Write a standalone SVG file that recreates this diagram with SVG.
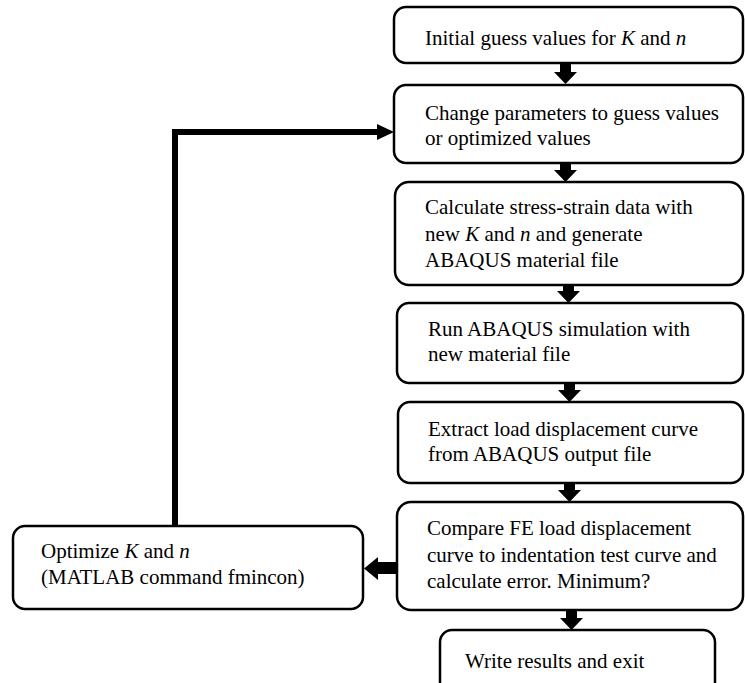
<svg xmlns="http://www.w3.org/2000/svg" width="745" height="683" viewBox="0 0 745 683">
<style>
.box{fill:#fff;stroke:#000;stroke-width:2.5}
.t{font-family:"Liberation Serif","Times New Roman",serif;font-size:21px;fill:#000}
.i{font-style:italic}
.conn{fill:#000;stroke:none}
</style>
<rect width="745" height="683" fill="#fff"/>
<g id="connectors">
  <path class="conn" d="M560,63 h11 v9 h6 l-11.5,12 l-11.5,-12 h6 z"/>
  <path class="conn" d="M560,163 h11 v7 h6 l-11.5,12 l-11.5,-12 h6 z"/>
  <path class="conn" d="M563,285 h11 v6 h6 l-11.5,12 l-11.5,-12 h6 z"/>
  <path class="conn" d="M564,383 h11 v7 h6 l-11.5,12 l-11.5,-12 h6 z"/>
  <path class="conn" d="M564,483 h11 v7 h6 l-11.5,12 l-11.5,-12 h6 z"/>
  <path class="conn" d="M566,610 h11 v8 h6 l-11.5,12 l-11.5,-12 h6 z"/>
  <path class="conn" d="M408,562 v12 h-30 v6 l-14,-11.5 l14,-11.5 v5 z"/>
  <polyline points="175,526 175,132 380,132" fill="none" stroke="#000" stroke-width="6"/>
  <path class="conn" d="M377,124 l17,8 l-17,8 z"/>
</g>
<g id="n1">
  <rect class="box" x="394" y="7" width="349" height="56" rx="12"/>
  <text class="t" x="425" y="45">Initial guess values for <tspan class="i">K</tspan> and <tspan class="i">n</tspan></text>
</g>
<g id="n2">
  <rect class="box" x="394" y="85" width="349" height="78" rx="12"/>
  <text class="t" x="425" y="120">Change parameters to guess values</text>
  <text class="t" x="425" y="145">or optimized values</text>
</g>
<g id="n3">
  <rect class="box" x="395" y="182" width="348" height="103" rx="14"/>
  <text class="t" x="425" y="214">Calculate stress-strain data with</text>
  <text class="t" x="425" y="241">new <tspan class="i">K</tspan> and <tspan class="i">n</tspan> and generate</text>
  <text class="t" x="425" y="267">ABAQUS material file</text>
</g>
<g id="n4">
  <rect class="box" x="397" y="303" width="346" height="80" rx="12"/>
  <text class="t" x="428" y="336">Run ABAQUS simulation with</text>
  <text class="t" x="428" y="361">new material file</text>
</g>
<g id="n5">
  <rect class="box" x="398" y="402" width="345" height="81" rx="12"/>
  <text class="t" x="428" y="436">Extract load displacement curve</text>
  <text class="t" x="428" y="461">from ABAQUS output file</text>
</g>
<g id="n6">
  <rect class="box" x="397" y="502" width="346" height="108" rx="14"/>
  <text class="t" x="427" y="535">Compare FE load displacement</text>
  <text class="t" x="427" y="562">curve to indentation test curve and</text>
  <text class="t" x="427" y="588">calculate error. Minimum?</text>
</g>
<g id="n7">
  <rect class="box" x="440" y="630" width="275" height="70" rx="12"/>
  <text class="t" x="465" y="668">Write results and exit</text>
</g>
<g id="n8">
  <rect class="box" x="13" y="526" width="350" height="83" rx="12"/>
  <text class="t" x="41" y="558">Optimize <tspan class="i">K</tspan> and <tspan class="i">n</tspan></text>
  <text class="t" x="41" y="584">(MATLAB command fmincon)</text>
</g>
</svg>
